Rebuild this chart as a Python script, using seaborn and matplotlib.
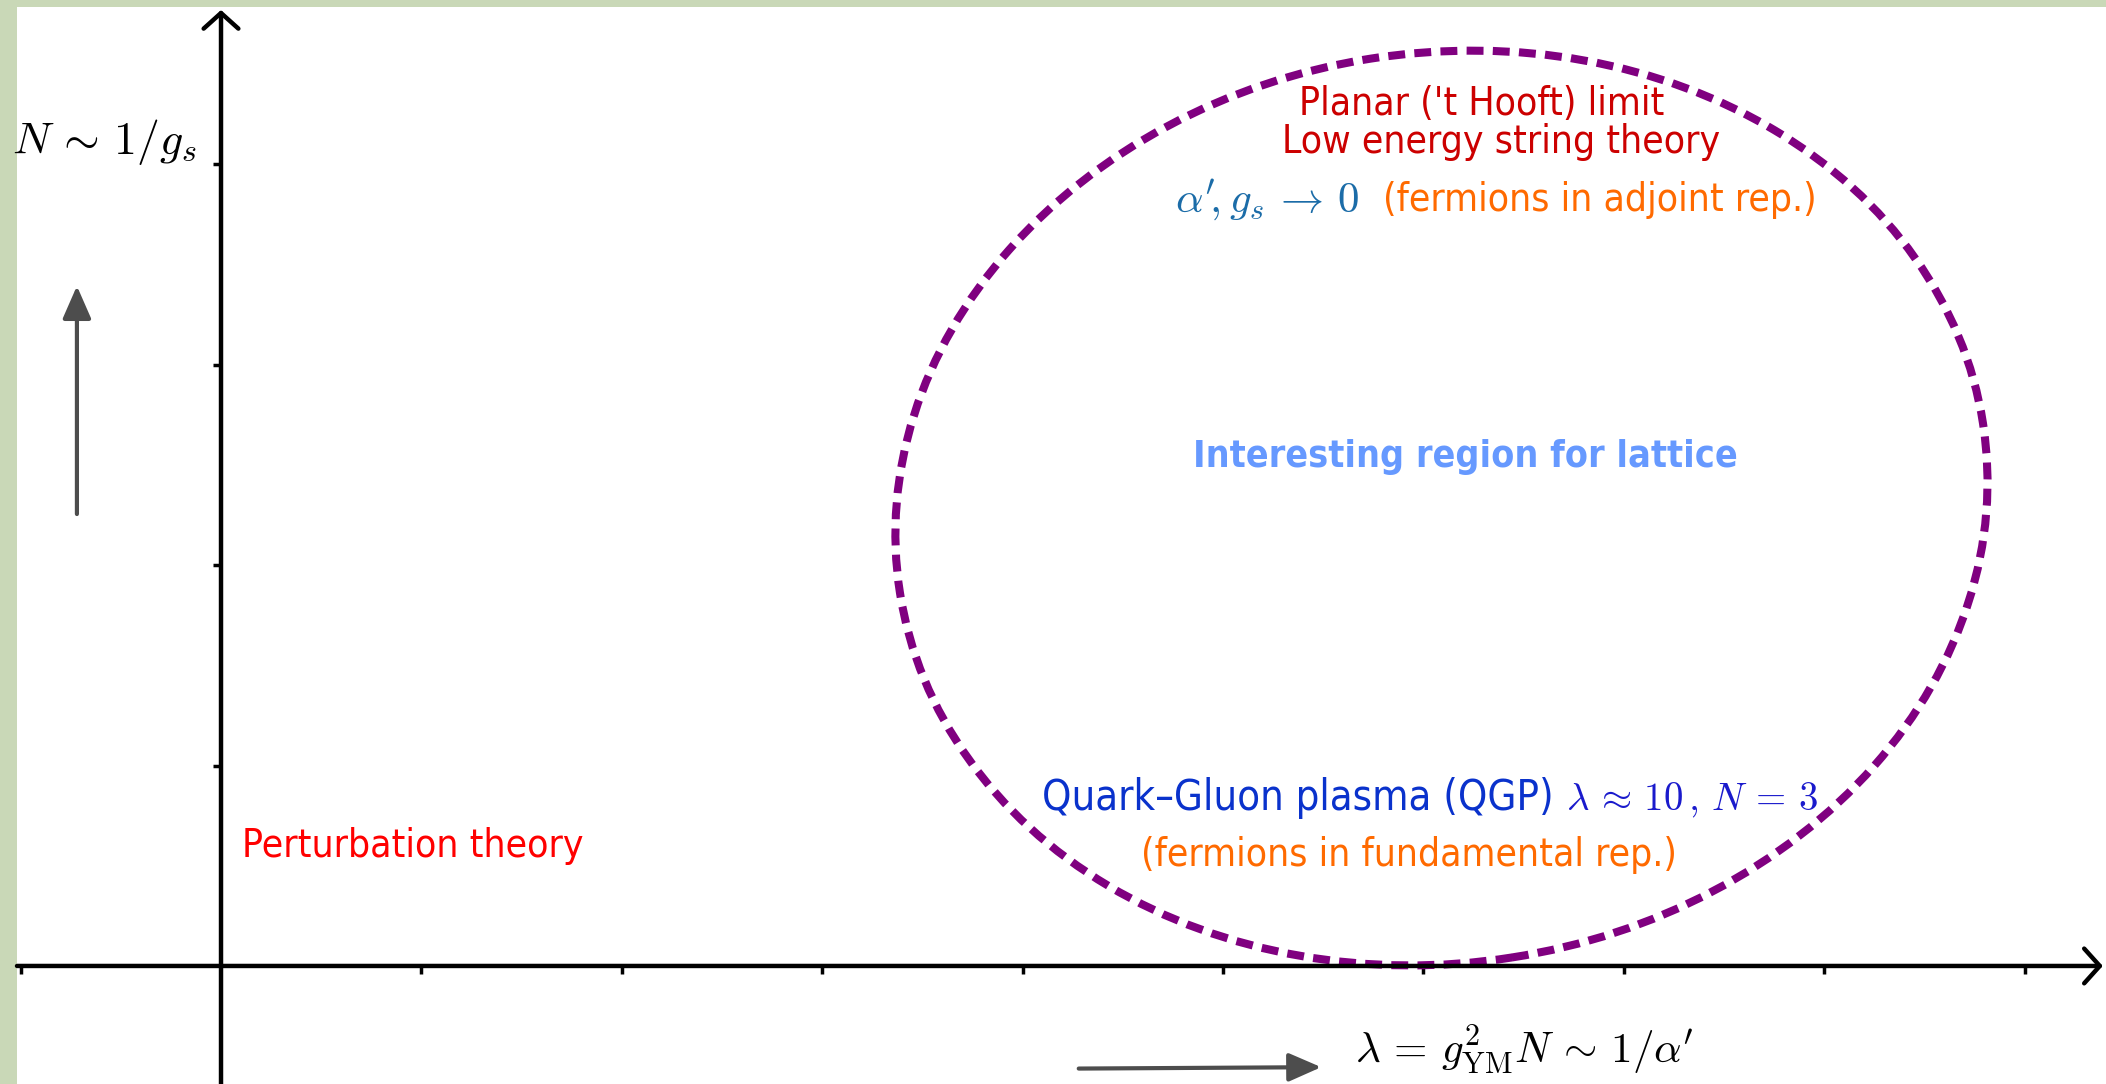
"""Sketch of the (lambda, N) plane with the region interesting for lattice."""

import matplotlib
matplotlib.use("Agg")
import matplotlib.pyplot as plt
from matplotlib.patches import Ellipse
import seaborn as sns

sns.set_theme(style="white")
plt.rcParams.update({
    "font.family": ["DejaVu Sans"],
    "mathtext.fontset": "cm",
})

# ── data ──────────────────────────────────────────────────────────
X_TICKS = [-1, 1, 2, 3, 4, 5, 6, 7, 8, 9]
Y_TICKS = [1, 2, 3, 4]
X_RANGE = (-1.018, 9.406)
Y_RANGE = (-0.589, 4.785)

REGION_CENTER = (6.09, 2.285)
REGION_WIDTH = 5.47
REGION_HEIGHT = 4.54
REGION_ANGLE = 8.9

TOP_LINES = ["Planar ('t Hooft) limit", "Low energy string theory"]
ADJOINT_MATH = r"$\alpha'\!, g_s \,\to\, 0$"
ADJOINT_TEXT = "(fermions in adjoint rep.)"
CENTER_TEXT = "Interesting region for lattice"
QGP_TEXT = "Quark\u2013Gluon plasma (QGP)"
QGP_MATH = r"$\lambda\,\approx\,10\,,\,N\,=\,3$"
FUND_TEXT = "(fermions in fundamental rep.)"
PERT_TEXT = "Perturbation theory"
Y_LABEL = r"$N \,\sim\, 1/g_s$"
X_LABEL = r"$\lambda \,=\, g^2_{\rm YM} N \,\sim\, 1/\alpha'$"

PURPLE = "#800080"
GREEN_BG = "#c9d8b7"


def main():
    fig = plt.figure(figsize=(21.06, 10.84), dpi=100, facecolor=GREEN_BG)
    ax = fig.add_axes([17 / 2106, 0, 2089 / 2106, 1077 / 1084])
    ax.set_facecolor("white")
    ax.set_xlim(*X_RANGE)
    ax.set_ylim(*Y_RANGE)

    # axes through the origin, ticks only
    for side in ["top", "right", "left", "bottom"]:
        ax.spines[side].set_visible(False)
    ax.spines["left"].set_position(("data", 0))
    ax.spines["bottom"].set_position(("data", 0))
    ax.set_xticks(X_TICKS)
    ax.set_yticks(Y_TICKS)
    ax.tick_params(axis="x", direction="out", length=6, width=2.5, colors="black",
                   bottom=True, labelbottom=False)
    ax.tick_params(axis="y", direction="out", length=6, width=2.5, colors="black",
                   left=True, labelleft=False)
    ax.grid(False)

    axis_arrow = dict(arrowstyle="->,head_length=0.45,head_width=0.5", lw=3.2,
                      color="black", mutation_scale=25, shrinkA=0, shrinkB=0)
    ax.annotate("", xy=(9.39, 0), xytext=(X_RANGE[0], 0), arrowprops=axis_arrow)
    ax.annotate("", xy=(0, 4.77), xytext=(0, Y_RANGE[0]), arrowprops=axis_arrow)

    # dashed region
    ax.add_patch(Ellipse(REGION_CENTER, REGION_WIDTH, REGION_HEIGHT, angle=REGION_ANGLE,
                         fill=False, edgecolor=PURPLE, lw=5.8, linestyle=(0, (2.1, 1.15))))

    # gray direction arrows
    gray_arrow = dict(arrowstyle="-|>,head_length=0.8,head_width=0.35", lw=3,
                      color="#4d4d4d", mutation_scale=25, shrinkA=0, shrinkB=0)
    ax.annotate("", xy=(-0.719, 3.393), xytext=(-0.719, 2.255), arrowprops=gray_arrow)
    ax.annotate("", xy=(5.49, -0.505), xytext=(4.28, -0.512), arrowprops=gray_arrow)

    body = dict(fontsize=28, fontstretch="condensed")
    ax.text(6.29, 4.248, TOP_LINES[0], color="#cc0000", ha="center", va="baseline", **body)
    ax.text(6.39, 4.057, TOP_LINES[1], color="#cc0000", ha="center", va="baseline", **body)
    ax.text(5.68, 3.765, ADJOINT_MATH, color="#1b6ca8", ha="right", va="baseline", fontsize=31)
    ax.text(5.80, 3.765, ADJOINT_TEXT, color="#ff6a00", ha="left", va="baseline", **body)
    ax.text(6.21, 2.54, CENTER_TEXT, color="#6699ff", ha="center", va="center",
            fontweight="bold", fontsize=27, fontstretch="condensed")
    ax.text(6.65, 0.78, QGP_TEXT, color="#0a32cc", ha="right", va="baseline",
            fontsize=30, fontstretch="condensed")
    ax.text(6.71, 0.78, QGP_MATH, color="#1a1acc", ha="left", va="baseline", fontsize=28)
    ax.text(5.93, 0.50, FUND_TEXT, color="#ff6a00", ha="center", va="baseline", **body)
    ax.text(0.105, 0.544, PERT_TEXT, color="#ff0000", ha="left", va="baseline", **body)

    ax.text(-0.579, 4.11, Y_LABEL, color="black", ha="center", va="center", fontsize=33)
    ax.text(5.66, -0.42, X_LABEL, color="black", ha="left", va="center", fontsize=31)

    fig.savefig("out.png", dpi=100, facecolor=GREEN_BG)
    plt.close(fig)


if __name__ == "__main__":
    main()
